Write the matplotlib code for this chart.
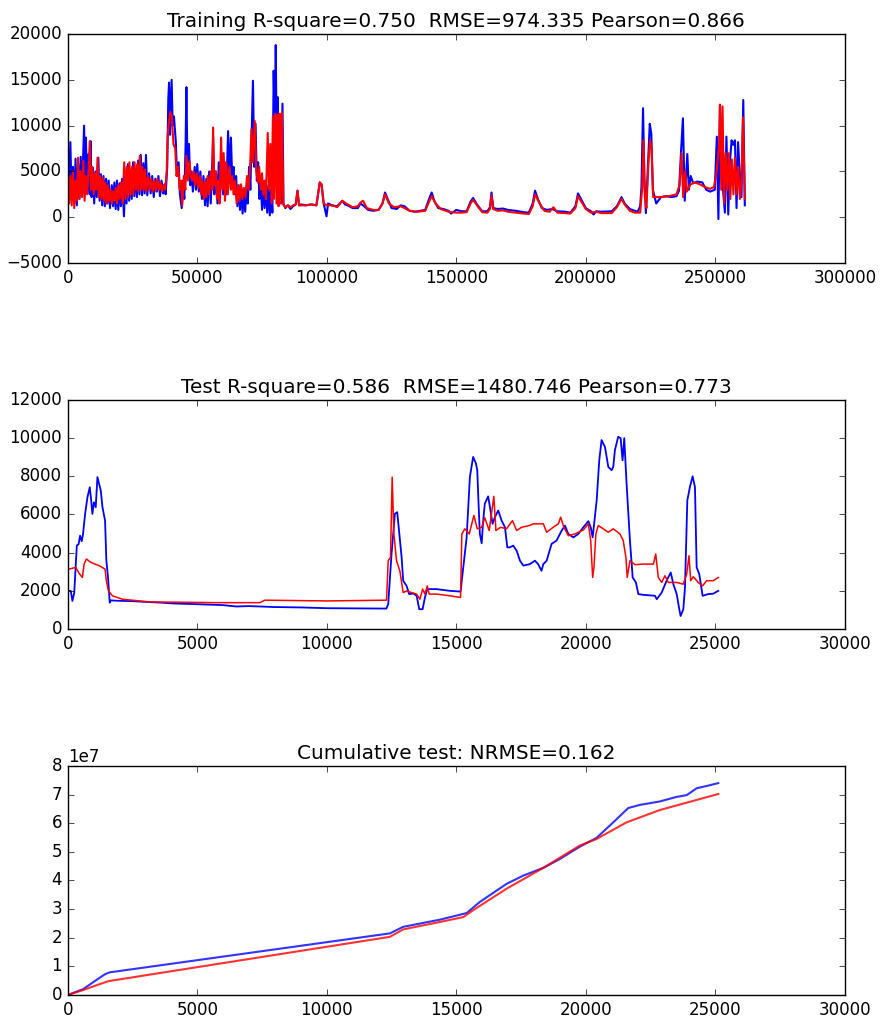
import numpy as np
import matplotlib
matplotlib.use('Agg')
import matplotlib.pyplot as plt

plt.style.use('classic')

# Training series: x in thousands of samples, y values
train_x_obs = [0, 0.5, 1, 1.5, 2, 2.5, 3, 3.5, 4, 4.5, 5, 5.5, 6, 6.3, 6.7, 7, 7.5, 8, 8.5, 8.8, 9.2, 9.7, 10.2, 10.7, 11.2, 11.8, 12.3, 12.8, 13.3, 13.8, 14.3, 14.8, 15.3, 15.8, 16.3, 17, 17.5, 18, 18.5, 19, 19.5, 20, 20.5, 21, 21.7, 22.2, 22.7, 23.2, 23.7, 24.2, 24.7, 25.2, 25.7, 26.2, 26.7, 27.2, 27.7, 28.2, 28.7, 29.2, 29.7, 30.2, 30.7, 31.4, 32, 32.6, 33.2, 33.8, 34.4, 35, 35.6, 36.2, 36.8, 37.4, 37.8, 38.4, 38.8, 39.1, 39.5, 40.1, 40.5, 41, 41.7, 42.2, 42.8, 43.3, 44, 44.5, 45, 45.5, 45.8, 46.2, 46.8, 47.3, 47.8, 48.3, 49, 49.5, 50, 50.6, 51.2, 51.8, 52.4, 53, 53.5, 54, 54.6, 55.2, 55.8, 56.1, 56.6, 57.2, 57.8, 58.3, 58.8, 59.4, 60, 60.6, 61.2, 61.9, 62.4, 63, 63.5, 64, 64.5, 65, 65.5, 66, 66.5, 67, 67.5, 68, 68.5, 69, 69.5, 70, 70.5, 71, 71.5, 72, 72.5, 73, 73.5, 74, 74.5, 75, 75.5, 76, 76.5, 77, 77.5, 78, 78.5, 79, 79.5, 80, 80.3, 80.7, 81.1, 81.5, 82, 82.4, 82.9, 83.3, 84, 85, 86, 87, 88, 88.7, 89.3, 90, 92, 94, 96, 97.3, 98, 98.8, 99.9, 100.5, 102, 104, 105, 106, 107, 108, 110, 112, 113, 114, 116, 118, 120, 121.5, 122.5, 123.5, 125, 127, 128.5, 130, 132, 134, 136, 138, 139.5, 140.5, 141.5, 143, 145, 147, 148, 150, 152, 154, 155.5, 156.5, 158, 160, 162, 163, 163.6, 164.3, 166, 168, 170, 173, 176, 178, 179.5, 180.4, 181.5, 183, 185, 187, 189, 192, 194, 196, 197, 198.5, 200, 202, 203, 204, 206, 210, 212, 213.8, 215, 217, 219, 220, 221, 221.5, 222.1, 222.6, 223.2, 223.8, 224.7, 225.3, 225.9, 226.6, 227.2, 228, 229, 231, 233, 235, 236, 236.8, 237.5, 238.2, 239.2, 239.8, 240.5, 241.5, 243, 245, 246.5, 248, 249.8, 250.6, 251.2, 251.8, 252.4, 253.7, 254.3, 255, 255.6, 256.3, 256.9, 257.6, 258.2, 258.8, 259.4, 260.1, 260.8, 261.4]
train_y_obs = [7500, 2500, 8200, 2000, 5500, 1500, 6400, 1300, 5800, 2000, 6600, 2500, 7000, 10000, 3000, 8700, 2600, 6900, 2500, 8300, 2200, 5400, 1500, 5000, 2200, 6500, 1800, 4700, 1300, 4500, 1200, 4200, 1500, 4000, 1000, 3500, 1200, 3800, 900, 4000, 800, 3700, 1200, 4200, 100, 4500, 1500, 5800, 1800, 5000, 2000, 6000, 2300, 5200, 2200, 6200, 2500, 6800, 2400, 5900, 2600, 6800, 2400, 4800, 2600, 4500, 2200, 4200, 2800, 4500, 2300, 4000, 2600, 3600, 2500, 5500, 12700, 14700, 9000, 15000, 10000, 11000, 8300, 4500, 6000, 2500, 1000, 4000, 2000, 8000, 14200, 6000, 8000, 3500, 5000, 2800, 5500, 3000, 5800, 2800, 5000, 2000, 4500, 1300, 4200, 1200, 5000, 1500, 6000, 8700, 2500, 5000, 1500, 6000, 2000, 7000, 2500, 6000, 2500, 9400, 4500, 8700, 4000, 5500, 2500, 4500, 1200, 3500, 800, 3200, 400, 3000, 600, 3200, 1500, 5500, 3000, 9000, 14900, 5500, 10200, 4000, 6000, 2000, 4000, 800, 3500, 1000, 3800, 500, 3500, 200, 3000, 500, 16000, 9000, 18800, 6000, 13100, 3000, 10000, 1500, 12400, 1400, 1000, 1300, 900, 1200, 1400, 2900, 1300, 1400, 1300, 1400, 1300, 3800, 3500, 1500, 100, 1500, 1300, 1200, 1500, 1800, 1400, 1300, 1000, 1000, 1500, 1300, 800, 700, 800, 1500, 2700, 2000, 1000, 900, 1300, 1200, 700, 600, 700, 800, 2000, 2700, 1800, 1000, 900, 700, 400, 800, 650, 650, 1700, 2100, 1400, 650, 650, 1100, 2700, 1000, 900, 950, 800, 700, 550, 500, 1500, 2900, 2000, 1000, 800, 900, 650, 600, 500, 1200, 2600, 1800, 1000, 650, 300, 650, 600, 650, 1200, 2200, 1500, 900, 700, 600, 1200, 3300, 11900, 4400, 450, 4400, 10200, 9100, 3000, 2200, 1500, 1800, 2200, 2300, 2200, 2300, 2900, 7300, 10800, 1800, 6900, 3000, 4500, 3700, 3900, 3800, 3000, 2800, 3000, 8800, -200, 12200, 5000, 500, 8800, 300, 5900, 8400, 7900, 8400, 1000, 8200, 5000, 2200, 12800, 1300]

train_x_pred = [0, 0.5, 1, 1.5, 2, 2.5, 3, 3.5, 4, 4.5, 5, 5.5, 6, 6.5, 7, 7.5, 8, 8.5, 9, 9.5, 10, 10.5, 11, 11.5, 12, 12.5, 13, 13.5, 14, 14.5, 15, 15.5, 16, 16.5, 17, 17.5, 18, 18.5, 19, 19.5, 20, 20.5, 21.2, 21.8, 22.3, 22.8, 23.3, 23.8, 24.3, 24.8, 25.3, 25.8, 26.3, 26.8, 27.3, 27.8, 28.3, 28.8, 29.3, 29.8, 30.3, 31, 31.6, 32.2, 32.8, 33.4, 34, 34.6, 35.2, 35.8, 36.4, 37, 37.6, 38.2, 38.6, 39.1, 39.6, 40.2, 40.8, 41.5, 42, 42.6, 43.2, 43.8, 44.2, 44.8, 45.4, 45.8, 46.4, 47, 47.5, 48.1, 48.6, 49.2, 49.8, 50.4, 51, 51.5, 52, 52.5, 53, 53.5, 54, 54.6, 55.2, 55.8, 56.1, 56.6, 57.1, 57.6, 58.1, 58.6, 59.2, 59.7, 60.2, 60.7, 61.2, 61.8, 62.4, 63, 63.5, 64, 64.6, 65.2, 65.8, 66.3, 66.9, 67.4, 68, 68.6, 69.2, 69.8, 70.4, 70.9, 71.4, 72.2, 72.8, 73.4, 73.9, 74.5, 75, 75.5, 76, 76.5, 77.2, 77.7, 78.2, 78.7, 79.2, 79.6, 80.1, 80.6, 81, 81.4, 81.8, 82.2, 82.7, 83.2, 84, 85, 86, 87, 88, 88.7, 89.3, 90, 92, 94, 96, 97.3, 98, 98.8, 100, 102, 104, 106, 107.5, 110, 112, 113, 114, 115.5, 118, 120, 121.5, 122.5, 124, 126, 128.5, 130, 132, 135, 138, 139.5, 140.5, 142, 144, 147, 150, 152, 154, 155.5, 156.5, 158, 160, 162, 163, 163.6, 164.2, 166, 168, 170, 173, 176, 178, 179.5, 180.4, 182, 184, 186, 187.5, 189, 192, 194, 196, 197, 198.5, 200, 202, 204, 206, 210, 212, 213.8, 215, 217, 219, 221, 221.8, 222.3, 222.8, 223.4, 224.2, 224.8, 225.4, 226, 227, 229, 232, 235, 236.2, 237, 237.6, 238.4, 239, 239.8, 240.5, 242, 244, 246, 248, 249.5, 250.5, 251.5, 251.8, 252.3, 252.8, 253.4, 254, 254.6, 255.2, 255.8, 256.4, 257, 257.6, 258.2, 258.8, 259.5, 260.1, 260.7, 261.4]
train_y_pred = [3000, 1500, 4500, 1300, 5000, 1000, 4000, 1800, 6500, 2000, 5000, 2200, 6200, 1800, 4500, 2500, 5000, 8300, 3000, 5500, 2500, 4800, 3000, 6500, 2200, 4500, 2000, 4300, 1800, 3800, 1500, 3500, 1800, 3000, 1500, 2800, 1800, 3200, 1500, 3500, 2000, 3800, 1500, 6000, 2000, 5500, 2200, 6000, 2500, 5500, 2500, 6000, 3000, 5800, 2800, 6700, 3000, 5500, 3000, 5200, 2800, 4500, 3000, 4200, 2800, 4000, 2900, 4200, 3000, 3800, 2800, 3500, 3000, 5000, 9000, 10500, 11500, 10900, 8000, 7500, 4500, 5500, 3000, 4000, 1300, 4500, 3000, 6700, 4000, 6100, 4500, 4000, 5000, 3500, 4800, 3200, 4500, 2500, 4000, 2000, 3800, 2200, 4500, 2500, 5000, 3000, 9800, 3500, 5000, 2000, 4000, 1500, 8700, 3000, 7000, 1800, 6000, 2500, 5500, 3000, 4500, 2500, 4000, 1500, 3500, 1800, 3600, 2000, 3200, 2200, 4500, 3000, 5500, 9600, 6000, 10500, 5000, 3800, 5500, 3000, 4800, 2500, 4000, 2000, 9200, 3000, 8000, 1500, 11000, 2000, 11300, 1500, 11200, 1200, 11300, 1500, 11500, 1400, 1100, 1300, 1100, 1300, 1400, 2900, 1300, 1300, 1300, 1400, 1300, 3800, 3600, 1500, 1300, 1300, 1100, 1800, 1500, 1100, 1200, 1600, 1800, 1000, 800, 800, 1500, 2500, 1500, 1100, 1200, 1000, 700, 600, 700, 1700, 2300, 1500, 900, 600, 500, 500, 550, 1500, 1900, 1300, 550, 500, 900, 2400, 900, 700, 750, 600, 500, 400, 350, 1200, 2500, 1600, 700, 600, 1100, 500, 450, 400, 1000, 2300, 1600, 900, 500, 600, 450, 450, 1100, 2000, 1400, 700, 500, 500, 3300, 8400, 2200, 1000, 6000, 8400, 7500, 2200, 2200, 2200, 2300, 2500, 3500, 7000, 2200, 5000, 2800, 3300, 3600, 3800, 3600, 3300, 3100, 3300, 5000, 8000, 12300, 3000, 12100, 1500, 7000, 3000, 7000, 2000, 6300, 2500, 6500, 2500, 5500, 2000, 4000, 10900, 2000]

# Test series
test_x_obs = [0, 116, 180, 250, 350, 420, 475, 540, 590, 670, 760, 850, 900, 950, 1010, 1080, 1145, 1210, 1275, 1340, 1440, 1490, 1555, 1620, 1660, 1900, 2500, 3000, 3600, 4200, 5000, 6000, 6500, 7000, 8000, 9000, 10000, 11000, 12300, 12372, 12500, 12630, 12720, 12800, 12890, 12950, 13080, 13180, 13340, 13470, 13570, 13700, 13790, 13880, 14240, 14750, 15165, 15240, 15400, 15525, 15650, 15760, 15810, 15860, 15910, 15980, 16040, 16100, 16230, 16300, 16400, 16490, 16620, 16750, 16880, 16970, 17070, 17200, 17330, 17460, 17590, 17840, 18035, 18160, 18290, 18360, 18490, 18680, 18870, 19070, 19195, 19325, 19520, 19710, 19905, 20100, 20190, 20265, 20315, 20420, 20520, 20610, 20740, 20870, 21000, 21060, 21125, 21250, 21345, 21420, 21485, 21575, 21705, 21810, 21935, 22030, 22220, 22670, 22740, 22930, 23120, 23280, 23380, 23510, 23610, 23660, 23765, 23830, 23920, 24020, 24125, 24215, 24280, 24380, 24510, 24730, 24920, 25115]
test_y_obs = [2000, 2000, 1470, 1900, 4370, 4450, 4890, 4600, 4980, 6030, 6900, 7430, 6800, 6030, 6640, 6380, 7960, 7600, 7250, 6380, 5680, 3580, 2700, 1380, 1500, 1480, 1460, 1420, 1380, 1330, 1300, 1250, 1180, 1200, 1150, 1130, 1090, 1080, 1070, 1300, 3930, 6040, 6120, 4980, 3750, 2530, 2260, 1830, 1860, 1740, 1035, 1035, 1650, 2090, 2090, 2000, 1960, 2880, 4800, 7960, 9015, 8670, 8320, 6560, 4980, 4490, 5680, 6560, 6950, 6380, 5510, 5860, 6210, 5680, 5330, 4280, 4280, 4370, 4100, 3580, 3320, 3400, 3580, 3400, 3050, 3400, 3580, 4460, 4630, 5160, 5420, 4980, 4800, 4980, 5330, 5650, 5330, 4800, 5420, 6740, 8840, 9900, 9540, 8490, 8320, 8490, 9370, 10070, 10000, 8840, 10000, 7610, 4630, 2700, 2440, 1830, 1790, 1740, 1560, 1910, 2530, 2960, 2350, 1830, 1035, 680, 1035, 2170, 6740, 7440, 8000, 7440, 3230, 2880, 1740, 1830, 1850, 2000]

test_x_pred = [0, 50, 310, 440, 565, 630, 720, 890, 1210, 1440, 1490, 1570, 1725, 2110, 3140, 5715, 7415, 7610, 9990, 12307, 12372, 12460, 12525, 12590, 12693, 12820, 12950, 13080, 13470, 13595, 13700, 13790, 13880, 13955, 14240, 14750, 15165, 15215, 15330, 15500, 15680, 15810, 15980, 16100, 16270, 16450, 16530, 16710, 16940, 17170, 17330, 17520, 17820, 17970, 18360, 18490, 18740, 18940, 19030, 19155, 19325, 19580, 19905, 20100, 20190, 20265, 20315, 20390, 20480, 20675, 20870, 21060, 21320, 21445, 21550, 21600, 21705, 21900, 22220, 22610, 22700, 22800, 22930, 23055, 23185, 23510, 23765, 23895, 23985, 24050, 24150, 24340, 24510, 24665, 24920, 25115]
test_y_pred = [3140, 3140, 3230, 2910, 2700, 3400, 3670, 3490, 3320, 3140, 2530, 2000, 1740, 1560, 1420, 1380, 1380, 1510, 1470, 1510, 3580, 3750, 7960, 4980, 3580, 3050, 1910, 1990, 1830, 1560, 2090, 1830, 2260, 1830, 1830, 1740, 1650, 4980, 5250, 4980, 5950, 5250, 5330, 5830, 5160, 6950, 5160, 5330, 5250, 5680, 5160, 5330, 5420, 5510, 5510, 5070, 5330, 5510, 5860, 5330, 4890, 4980, 5190, 5510, 4630, 2700, 3230, 4980, 5420, 5250, 5070, 5250, 4980, 4630, 3750, 2700, 3580, 3370, 3400, 3400, 3930, 2700, 2440, 2790, 2440, 2440, 2350, 2880, 3840, 2530, 2740, 2440, 2260, 2530, 2530, 2700]

# Cumulative test series (units of 1e7)
cum_x_obs = [0, 590, 1100, 1430, 1620, 12435, 12950, 14370, 15400, 15910, 16940, 17590, 18360, 19000, 19770, 20420, 21060, 21640, 22090, 22860, 23510, 23895, 24280, 24665, 25115]
cum_y_obs = [0, 0.2, 0.52, 0.72, 0.79, 2.15, 2.38, 2.63, 2.86, 3.25, 3.88, 4.17, 4.44, 4.75, 5.18, 5.49, 6.03, 6.53, 6.64, 6.76, 6.92, 6.98, 7.22, 7.30, 7.40]
cum_x_pred = [0, 590, 1490, 1620, 12435, 12950, 14370, 15270, 15650, 16940, 18360, 19770, 20420, 21575, 22860, 25115]
cum_y_pred = [0, 0.17, 0.46, 0.49, 2.03, 2.29, 2.55, 2.72, 2.96, 3.71, 4.44, 5.22, 5.45, 6.03, 6.46, 7.02]

fig = plt.figure(figsize=(8.8, 10.19), dpi=100, facecolor='w')
plt.subplots_adjust(left=0.077, right=0.960, top=0.9666, bottom=0.0236, hspace=0.598)

ax1 = fig.add_subplot(3, 1, 1)
ax1.plot(np.array(train_x_obs) * 1000, train_y_obs, 'b-', lw=1.5)
ax1.plot(np.array(train_x_pred) * 1000, train_y_pred, 'r-', lw=1.5)
ax1.set_xlim(0, 300000)
ax1.set_ylim(-5000, 20000)
ax1.set_title('Training R-square=0.750  RMSE=974.335 Pearson=0.866', fontsize=14.4)

ax2 = fig.add_subplot(3, 1, 2)
ax2.plot(test_x_obs, test_y_obs, 'b-', lw=1.3)
ax2.plot(test_x_pred, test_y_pred, 'r-', lw=1.1)
ax2.set_xlim(0, 30000)
ax2.set_ylim(0, 12000)
ax2.set_title('Test R-square=0.586  RMSE=1480.746 Pearson=0.773', fontsize=14.4)

ax3 = fig.add_subplot(3, 1, 3)
ax3.plot(cum_x_obs, np.array(cum_y_obs) * 1e7, 'b-', lw=1.5, alpha=0.8)
ax3.plot(cum_x_pred, np.array(cum_y_pred) * 1e7, 'r-', lw=1.5, alpha=0.8)
ax3.set_xlim(0, 30000)
ax3.set_ylim(0, 8e7)
ax3.set_title('Cumulative test: NRMSE=0.162', fontsize=14.4)

for ax in (ax1, ax2, ax3):
    ax.tick_params(labelsize=12)

plt.savefig('out.png', dpi=100, facecolor='w')
